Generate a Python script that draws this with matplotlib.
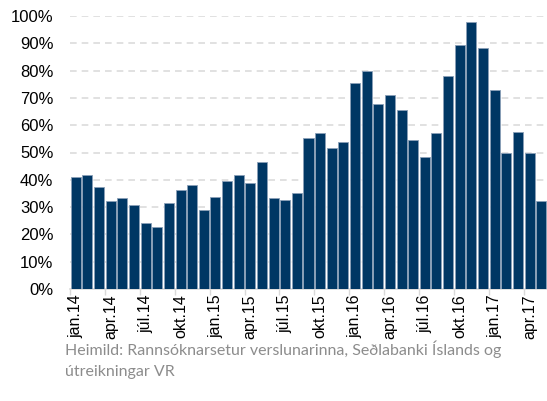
import matplotlib.pyplot as plt
import numpy as np

# Monthly values, jan.14 - maí.17 (%)
values = [40.9, 41.7, 37.2, 32.2, 33.2, 30.7, 24.0, 22.7, 31.4, 36.3, 38.0, 29.0,
          33.7, 39.5, 41.7, 39.0, 46.7, 33.2, 32.6, 35.0, 55.2, 57.1, 51.6, 54.0,
          75.3, 79.8, 67.9, 71.2, 65.4, 54.4, 48.5, 57.1, 77.9, 89.4, 97.9, 88.4,
          72.9, 49.9, 57.6, 49.9, 32.1]
tick_labels = ['jan.14', 'apr.14', 'júl.14', 'okt.14', 'jan.15', 'apr.15', 'júl.15',
               'okt.15', 'jan.16', 'apr.16', 'júl.16', 'okt.16', 'jan.17', 'apr.17']
source = 'Heimild: Rannsóknarsetur verslunarinna, Seðlabanki Íslands og\nútreikningar VR'

plt.rcParams['font.family'] = ['Liberation Sans', 'DejaVu Sans']

fig = plt.figure(figsize=(5.47, 4.01), dpi=100)
ax = fig.add_axes([70 / 547, 1 - 289 / 401, 477 / 547, 273 / 401])

x = np.arange(len(values))
ax.bar(x, values, width=0.86, color='#003764', edgecolor='#8a9fb8', linewidth=0.6, zorder=3)

ax.set_xlim(-0.5, len(values) - 0.5)
ax.set_ylim(0, 100)
ax.set_yticks(np.arange(0, 101, 10))
ax.set_yticklabels([f'{v}%' for v in range(0, 101, 10)], fontsize=12)
ax.yaxis.grid(True, color='#dcdcdc', linestyle=(0, (4, 3)), linewidth=1.2, zorder=0)
ax.tick_params(axis='y', length=0, pad=12)

ax.set_xticks(x[::3])
ax.set_xticklabels(tick_labels, rotation=90, fontsize=11.5)
ax.set_xticks(np.arange(-0.5, len(values), 3), minor=True)
ax.tick_params(axis='x', which='major', length=0, pad=4)
ax.tick_params(axis='x', which='minor', length=4, color='#d9d9d9', width=1)

for s in ['top', 'right', 'left']:
    ax.spines[s].set_visible(False)
ax.spines['bottom'].set_color('#d9d9d9')
ax.spines['bottom'].set_linewidth(1.2)

fig.text(65 / 547, 1 - 340 / 401, source, fontsize=11.5, color='#8c8c8c',
         family=['Lato', 'DejaVu Sans'], va='top', linespacing=1.65)

fig.savefig('out.png', dpi=100)
